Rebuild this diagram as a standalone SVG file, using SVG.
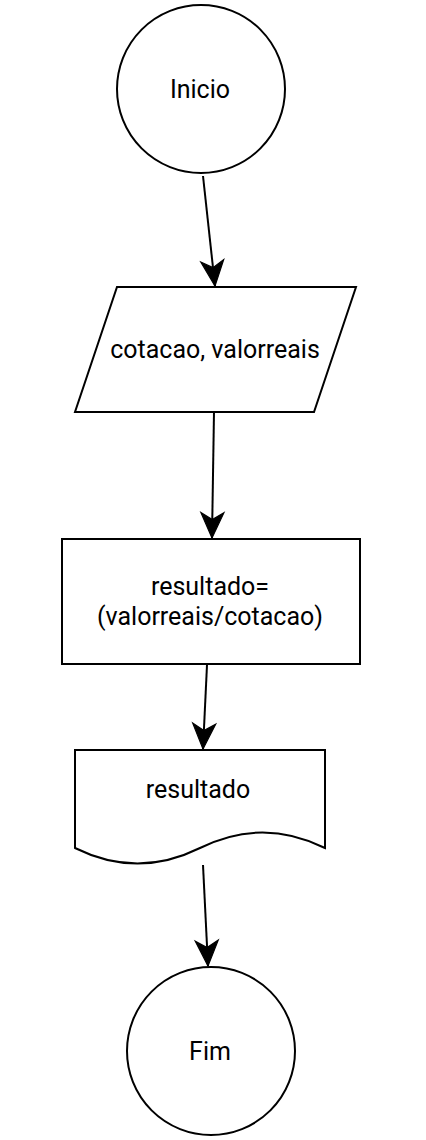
<svg xmlns="http://www.w3.org/2000/svg" width="426" height="1140" viewBox="0 0 426 1140">
<style>
.s{fill:#fff;stroke:#000;stroke-width:2}
.t{font-family:Roboto,"Liberation Sans",sans-serif;font-size:25px;fill:#000;text-anchor:middle}
.c{fill:none;stroke:#000;stroke-width:2}
</style>
<defs>
<marker id="a" markerUnits="userSpaceOnUse" markerWidth="30" markerHeight="30" viewBox="-24 -12 26 24" refX="0" refY="0" orient="auto">
<path d="M0,0 L-22,-10 L-16,0 L-22,10 Z" fill="#000" stroke="#000" stroke-width="1"/>
</marker>
</defs>
<rect width="426" height="1140" fill="#fff"/>
<g id="inicio">
<circle class="s" cx="201" cy="89" r="84"/>
<text class="t" x="200" y="98">Inicio</text>
</g>
<g id="entrada">
<path class="s" d="M117,287 L356,287 L314,412 L75,412 Z"/>
<text class="t" x="215" y="358">cotacao, valorreais</text>
</g>
<g id="processo">
<rect class="s" x="62" y="539" width="298" height="125"/>
<text class="t" x="210" y="595">resultado=</text>
<text class="t" x="210" y="625">(valorreais/cotacao)</text>
</g>
<g id="saida">
<path class="s" d="M75,750 L325,750 L325,848 Q262.5,817 200,848 Q137.5,879 75,848 Z"/>
<text class="t" x="198" y="798">resultado</text>
</g>
<g id="fim">
<circle class="s" cx="211" cy="1051" r="84"/>
<text class="t" x="210" y="1060">Fim</text>
</g>
<g id="connectors">
<line class="c" x1="203" y1="176" x2="215" y2="286" marker-end="url(#a)"/>
<line class="c" x1="214" y1="412" x2="212" y2="538" marker-end="url(#a)"/>
<line class="c" x1="207" y1="665" x2="203" y2="749" marker-end="url(#a)"/>
<line class="c" x1="203" y1="865" x2="208" y2="966" marker-end="url(#a)"/>
</g>
</svg>
